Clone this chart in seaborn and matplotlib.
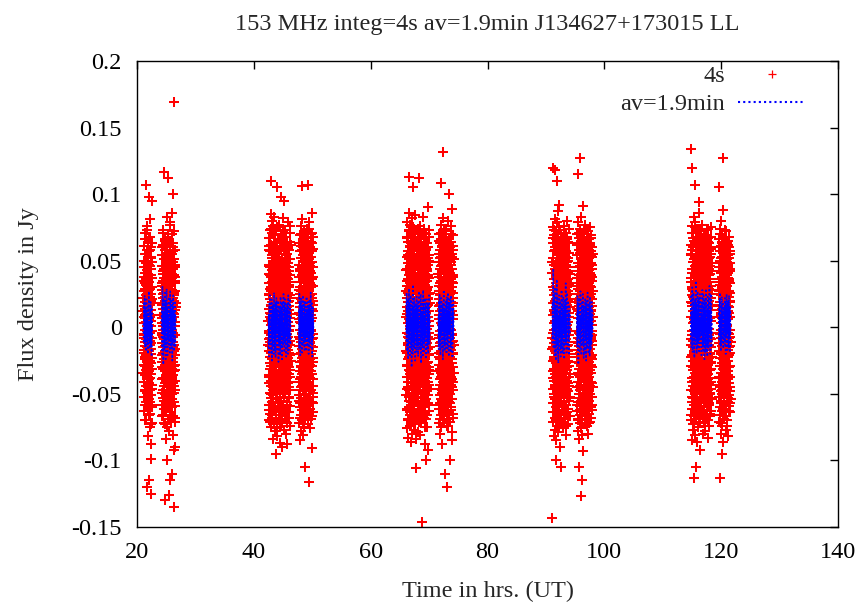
import numpy as np
import pandas as pd
import matplotlib
matplotlib.use("Agg")
import matplotlib.pyplot as plt
import seaborn as sns
from matplotlib.lines import Line2D

title_text = "153 MHz integ=4s av=1.9min J134627+173015 LL"
x_label = "Time in hrs. (UT)"
y_label = "Flux density in Jy"
legend_labels = ["4s", "av=1.9min"]

# observing blocks (hours UT)
block_start = [21.1, 24.2, 42.5, 47.7, 66.1, 71.6, 91.1, 95.3, 114.8, 119.6]
block_end = [22.6, 26.6, 46.3, 50.2, 70.1, 74.2, 94.1, 98.0, 118.4, 121.6]

# 4s samples, mJy
red_b1 = [12, -34, 45, -8, 27, -52, 3, -19, 61, -41, 16, -6, 38, -63, 22, -28, 7, 50, -14, 33,
          -47, 19, -2, 71, -36, 9, -24, 55, -11, 29, -58, 41, -17, 4, 107, -32, 66, -5, 24, -44,
          14, -70, 36, -21, 48, -9, 1, -39, 58, -26, 18, -120, 31, -3, 76, -49, 11, -30, 43, -15,
          26, -61, 6, -37, 52, -12, 35, -82, 20, -1, 64, -45, 15, -23, 40, -7, 98, -54, 28, -33,
          -115, 47, -18, 10, -66, 57, -29, 2, 34, -42, 81, -13, 23, -56, 8, -25, 46, -4, 30, -75,
          17, -38, 68, -10, 39, -51, 5, -125, 25, -20, 53, -35, 13, -88, 44, -16, -99, 60, -27, 21,
          -46, 37, -8, 95, -60, 18, -31, 49, -3, -72]
red_b2 = [-21, 46, 3, -58, 31, -12, 17, -39, 54, -4, 28, -67, 9, -26, 40, -15, 62, -47, 22, -7,
          35, -53, 14, -31, 1, 73, -19, 44, -38, 8, -61, 26, -2, 51, -44, 11, -24, 117, 37, -9,
          -73, 19, -33, 58, -14, 30, -50, 4, 42, -28, -130, 66, -6, 23, -41, 13, -57, 48, -18, 32,
          -84, 7, -36, 56, -11, 20, -63, 39, -1, 83, -45, 16, -27, 61, -8, -100, 34, -52, 25, -16,
          47, -35, 5, -69, 29, -22, 70, -40, 12, -3, 112, 43, -59, 21, -30, 52, -13, 36, -78, 10,
          -48, 27, -5, 64, -37, 18, -126, 41, -20, 3, -55, 33, -9, 79, -43, 15, -29, 57, -64, 24,
          -115, 38, -17, 9, -46, 63, -25, 2, 45, -34, 19, -71, 50, -10, 31, -54, 6, -23, 86, -39,
          28, -2, -110, 55, -31, 14, -60, 37, -15, 100, -42, 22, -7, 49, -81, 11, -26, 60, -36, 17,
          -4, 44, -49, 26, -92, 8, -18, 169, -135, 39, -13, 72, -33, 20, -56, 4, 33, -21, 47, -68,
          13, -40, 27, -6, 58, -28, 35, -47, -90, 18]
red_b3 = [5, -42, 61, -18, 33, -70, 24, -9, 47, -36, 14, -58, 40, -3, 67, -27, 21, -49, 8, -14,
          57, -31, 29, -65, 45, -22, 73, -11, 2, -53, 16, -40, 85, -6, 38, -75, 27, -19, 110, 62,
          -44, 10, -29, 54, -68, 34, -2, 71, -37, 19, -56, 43, -24, 80, -12, 31, -84, 58, -33, 6,
          -47, 26, -16, 50, -61, 39, -7, 76, -51, 13, -26, 3, -72, 22, -39, 64, -4, 37, -59, 17,
          -21, 83, -46, 9, -34, 56, -78, 28, -13, 46, -63, 11, -30, 69, -43, 35, -8, 59, -54, 20,
          -95, 41, -17, 74, -28, 4, -66, 53, -38, 18, -1, 63, -50, 15, -23, 47, -76, 32, -10, 105,
          -82, 44, -48, 25, -5, 36, -57, 12, -35, 66, -20, 7, -45, 51, -15, 30, -69, 42, -9, 23,
          -32, 55, -3, 18, -62, 39, -25, 77, -11, 28, -52, 1, -41, 60, -19, 34, -87, 14, -6, 49,
          -37, 21, -64, 98, -27, 44, -13, 8, -55, 33, -30, 70, -8, 16, -46, 58, -22, 27, -71, 3,
          -17, 52, -40, 24, -90, 41, -2, 65, -33, 11, -58, 37, -14, 82, -48, 19, -26, 45, -7, 31,
          -60, 9, -36, 57, -18, 26, -77, 48, -1, 14, -43, 68, -29, 38, -11, 95, -53, 6, -24, 50,
          -67, 20, -39, 62, -4, 35, -50, 15, -31, 73, -16, 43, -61, 2, -20, 54, -44, 29, -9, 17,
          -80, 46, -28, 12, -56, 40, -5, 63, -38, 23, -88, 8, -15, 55, -34, 31, -72, 19, -23, 79,
          -42, 4, -12, 48, -64, 26, -47, 36, -7, 60, -27, 13, -52, 42, -19, -68, 30, -35, 22, -3,
          58, -45, 16, -30, 71, -10, 39, -59, 7, -21, 51, -41, 24, -74, 34, -13, 64, -37, 10, -25]
red_b4 = [-14, 38, -55, 22, -7, 63, -41, 11, -72, 47, -26, 30, -60, 4, 57, -33, 18, -85, 42, -2,
          69, -47, 25, -19, 52, -66, 9, -37, 76, -11, 34, -53, 15, -29, 61, -78, 27, -5, 45, -44,
          106, 20, -62, 58, -23, 7, -70, 39, -16, 81, -35, 13, -57, 49, -9, 28, -81, 66, -31, 3,
          -48, 54, -21, 36, -64, 17, -40, 72, -6, 43, -75, 24, -28, 59, -51, 10, -12, 46, -68, 31,
          -105, -36, 50, -3, 1, -24, 65, -45, 19, -15, 37, -58, 8, -32, 71, -20, 26, -50, 14, -4,
          55, -39, 33, -67, 12, -27, 48, -10, 21, -59, 40, -1, 74, -43, 16, -34, 62, -18, 29, -73,
          107, 6, -25, 44, -54, 23, -8, 67, -37, 11, -63, 35, -13, 51, -30, 2, -46, 79, -22, 27,
          -116, 39, -17, 56, -42, 15, -6, 33, -76, 48, -28, 18, -52, 60, -11, 24, -38, 9, -61, 42,
          -20, 70, -33, 5, -47, 30, -2, 53, -69, 20, -26, 41, -14, 86, -56, 13, -35, 63, -9, -91,
          36, -44, 22, -18, 57, -29, 7, -64, 45, -5, 31, -49, 17, -39, 68, -23, 12, -57, 38, -15]
red_b5 = [27, -51, 8, 44, -19, 68, -37, 15, -76, 53, -4, 31, -62, 22, -28, 79, -45, 3, 57, -13,
          36, -69, 12, -41, 64, -24, 48, -83, 19, -7, 113, 73, -55, 29, -32, 51, -18, 86, -60, 6,
          39, -47, 24, -74, 61, -10, 33, -52, 16, -35, 77, -22, 45, -66, 1, 55, -39, 26, -86, 70,
          -15, 11, -58, 42, -29, 63, -8, 35, -71, 18, -44, 82, -25, 50, -63, 7, -17, 59, -49, 30,
          -80, 14, -34, 105, 67, -2, 41, -57, 23, -21, 75, -42, 9, -68, 47, -11, 37, -54, 20, -77,
          65, -30, 4, -46, 58, -6, 28, -61, 43, -38, 84, -16, 13, -73, 52, -27, 32, -50, 17, -9,
          71, -40, 25, -84, -106, 60, -65, 38, -20, 2, -36, 49, -56, 21, -12, 46, -31, 10, -3, 54,
          -43, 28, -67, 16, -24, 62, -48, 5, -14, 39, -79, 33, -7, 72, -35, 19, -53, 44, -1, 26,
          -59, 11, -28, 57, -41, 112, -18, 36, -70, 8, -33, 50, -22, 15, -62, 41, -5, 66, -45, 23,
          -13, 53, -37, 3, -81, 30, -26, 76, -9, 44, -55, 18, -16, 61, -39, 12, -72, 48, -4, 34,
          -50, 25, -30, 69, -11, 7, -64, 40, -21, 56, -146, 19, -42, 31, -2, 59, -34, 14, -57, 47,
          -8, 83, -27, 22, -48, 36, -15, 9, -68, 51, -36, 27, -3, 64, -44, 17, -25, 74, -52, 6,
          -19, 43, -60, 29, -10, 55, -40, 13, -88, 38, -23, 67, -6, 32, -47, 20, -31, 58, -14, 4,
          -100, 45, -29, 70, -17, 24, -54, 11, -38, 63, -1, 35, -66, 42, -20, 16, -45, 52, -12, 28,
          -75, 90, -33, 8, -51, 39, -7, 60, -26, 21, -92, 47, -16, 30, -58, 12, -35, 68, -4, 25,
          -43, 54, -21, 37, -63, 5, -30, 49, -9, 18]
red_b6 = [-33, 16, -61, 49, -8, 27, -72, 55, -19, 38, -46, 6, 70, -28, 21, -57, 44, -3, 63, -39,
          12, -80, 33, -14, 58, -51, 25, -24, 77, -43, 9, -66, 40, -11, 53, -34, 18, -75, 66, -20,
          108, 30, -55, 2, 47, -37, 24, -88, 61, -7, 35, -49, 14, -29, 82, -62, 19, -16, 51, -41,
          132, 8, -70, 43, -26, 68, -4, 29, -58, 37, -31, 74, -45, 11, -13, 57, -67, 22, -38, 46,
          -110, -52, 4, -23, 31, -9, 62, -36, 15, -48, 40, -18, 26, -64, 3, -30, 56, -42, 20, -6,
          72, -27, 13, -59, 35, -15, 48, -74, 28, -1, 65, -40, 10, -33, 52, -21, -120, 23, -53, 39,
          -10, 80, -46, 17, -25, 45, -63, 7, -35, 59, -12, 32, -69, 21, -4, 50, -29, 100, 14, -56,
          42, -19, 67, -38, 5, -44, 34, -8, 60, -71, 25, -22, -100, 54, -32, 11, -50, 41, -14, 76,
          -37, 19, -60, 27, -2, 47, -43, 9, -27, 64, -17, 36, -79, 16, -39, 55, -6, 89, -85, 30,
          -24, 44, -54, 12, -11, 58, -34, 22, -65, 38, -20, 6, -47, 69, -30, 18, -41, 33, -13, 51]
red_b7 = [41, -143, -16, 63, -38, 9, -71, 52, -25, 30, -57, 120, 18, -4, 75, -46, 24, -82, 57, -12,
          36, -64, 13, -31, 69, -50, 3, -22, 47, -77, 28, -9, 60, -43, 118, 20, -68, 81, -35, 11,
          -54, 44, -1, 66, -27, 33, -85, 49, -18, 15, -60, 72, -40, 26, -100, -7, 56, -52, 8, -74,
          38, 110, -29, 79, -14, 22, -48, 61, -36, 5, -65, 45, -20, 31, -79, 54, -10, 17, -58, 87,
          -33, 40, -24, 65, -47, 12, -70, 35, -6, 50, -41, 27, -62, 92, -90, 58, -44, 2, -19, 73,
          -55, 19, -28, 43, -11, 34, -37, 7, -51, 62, -23, 15, -105, 46, -3, 25, -66, 39, -15, 70,
          -42, 10, -30, 55, -8, 37, -59, 21, -26, 48, -72, 16, -12, 64, -39, 29, -49, 6, -21, 53,
          -34, 23, -76, 44, -2, 59, -45, 14, -17, 76, -56, 32, -7, 41, -63, 18, -31, 67, -13, 26,
          -50, 9, -38, 51, -24, 35, -68, 3, -43, 60, -16, 28, -81, 47, -5, 20, -35, 71, -27, 13,
          -58, 39, -9, 57, -46, 24, -20, 49, -64, 8, -32, 66, -14, 30, -53, 17, -40, 80, -1, 42,
          -73, 21, -25, 52, -11, 36, -48, 4, -61, 45, -18, 27, -37, 63, -6, 15, -55, 33, -29, 74,
          -44, 11, -22, 56, -67, 19, -3, 40, -52, 25]
red_b8 = [-26, 54, -11, 37, -63, 21, -45, 70, -3, 29, -78, 48, -17, 115, 12, -56, 63, -34, 25, -69,
          42, -8, 79, -50, 16, -22, 58, -105, -41, 7, -84, 33, -14, 67, -31, 20, -59, 46, -5, 74,
          -47, 10, -37, 127, 55, -72, 27, -19, 39, -62, 4, -28, 83, -127, -53, 23, -12, 60, -44, 15,
          -76, 36, -2, 52, -66, 30, -24, 71, -38, 8, -115, -58, 44, -16, 26, -81, 64, -30, 13, -49,
          57, -9, 34, 91, -93, 47, -64, 18, -35, 1, 50, -21, 62, -40, 11, -27, 45, -6, 32, -57,
          19, -15, 68, -33, 6, -70, 41, -10, 28, -51, 53, -25, 14, -43, 77, -4, 35, -61, 22, -18,
          49, -36, 9, -67, 40, -13, 24, -54, 61, -29, 3, -46, 38, -7, 56, -74, 17, -23, 65, -39,
          12, -31, 43, -60, 27, -1, 72, -48, 20, -14, 51, -35, 7, -80, 36, -20, 59, -42, 15, -8,
          46, -65, 29, -26, 66, -11, 33, -55, 4, -37, 54, -19, 23, -71, 41, -5, 62, -32, 10, -50,
          31, -16, 75, -44, 18, -28, 48, -60, 5, -22, 39, -9, 57, -41, 25, -68, 13, -34, 69, -3,
          44, -52, 21, -13, 53, -30, 16, -58, 35, -24, 60, -6, 27, -45, 8]
red_b9 = [19, -47, 62, -13, 34, 134, -70, 8, -29, 55, -52, 24, -6, 76, -38, 41, -85, 16, 120, -21,
          58, -61, 30, -10, 67, -44, 3, -32, 49, -77, 27, -15, 71, -53, 12, -25, -113, 44, -67, 37,
          -2, 83, -40, 21, -58, 51, -18, 6, -73, 64, -34, 28, 107, -9, 46, -62, 14, -48, 79, -27,
          38, -81, 10, -16, 57, -55, 23, -36, -105, 68, -4, 32, -69, 47, -22, 18, -50, 74, -31, 9,
          -64, 43, -12, 60, -43, 26, -86, 53, -20, 35, -57, 15, -7, 72, -39, 40, -75, 2, -28, 61,
          -46, 29, -14, 86, -59, 20, -33, 50, -68, 11, -23, 66, -37, 94, -92, 45, -52, 5, -17, 39,
          -71, 25, -3, 54, -26, 13, -41, 36, -8, 63, -49, 22, -19, 48, -65, 7, -35, 70, -11, 31,
          -56, 17, -1, 45, -30, 59, -42, 4, -24, 77, -15, 28, -63, 40, -9, 52, -37, 12, -80, 33,
          -18, 65, -45, 21, -5, 43, -54, 9, -27, 58, -12, 37, -72, 26, -40, 14, -60, 49, -2, 30,
          -48, 16, -21, 69, -33, 6, -66, 42, -14, 55, -25, 19, -78, 35, -7, 61, -44, 10, -30, 47,
          -57, 24, -11, 38, -69, 3, -36, 73, -20, 27, -51, 15, -4, 56, -39, 32, -62, 11, -16, 64,
          -28, 41, -47, 18, -83, 51, -10, 23, -35, 67, -55, 7, -23, 44, -6, 34, -74, 20, -42, 57,
          -13, 29, -58, 39, -1, 60, -32, 13, -50, 46, -19, 25, -67, 8, -38, 53, -8, 36, -46, 22,
          -26, 75, -41, 5, -15, 48, -63, 31, -31, 59, -4, 17, -53, 42, -22, 28]
red_b10 = [-18, 45, -52, 27, -4, 66, -37, 13, -71, 105, 50, -23, 32, -60, 8, 74, -45, 19, -12, 57,
           -113, -66, 36, -29, 3, -80, 42, -8, 61, -48, 24, -34, 80, -19, 11, -57, 48, -2, 29, -95,
           -74, 64, -27, 16, -41, 53, -14, 38, -63, 7, -50, 70, -31, 21, 88, -86, 44, -47, 1, -24,
           58, -38, 33, -9, 127, 15, -55, 40, -69, 26, -16, 51, -35, 10, -43, 62, -6, 30, -58, 18,
           -26, 46, -11, 35, -67, 22, -3, 55, -40, 14, -20, 68, -49, 5, -32, 39, -77, 28, -13, 59,
           -44, 17, -1, 43, -61, 25, -28, 72, -36, 9, -53, 34, -15, 63, -22, 2, -46, 49, -7, 31,
           -70, 20, -39, 54, -10, 37, -56, 12, -25, 47, -33, 6, -82, 41, -17, 65, -42, 23, -5, 52,
           -30, 15, -59, 36, -21, 60, -8, 27, -51, 11, -37, 44, -14, 57, -64, 19, -2, 33, -45, 26,
           -19, 48, -29, 8, -54]

# more 4s samples for the dense core of each block, mJy (also spread over the block's time range)
red2_b1 = [22, -41, 8, -63, 35, -17, 50, -5, -29, 14, 66, -48, 3, -22, 41, -70, 27, -11, 55, -36,
           10, -56, 32, -2, 73, -25, 16, -44, 4, -14, 47, -60, 24, -33, 61, -8, 37, -52, 13, -20,
           68, -39, 6, -27, 44, -65, 19, -4, 58, -31, 29, -47, 1, -16, 52, -73, 39, -12, 20, -58,
           63, -23, 9, -43, 30]
red2_b2 = [33, -6, -49, 18, 60, -30, 7, -66, 42, -15, 25, -38, 71, -2, 14, -55, 46, -24, 3, -72,
           37, -9, 58, -42, 20, -18, 65, -33, 11, -61, 29, -4, 50, -27, 16, -75, 39, -12, 6, -47,
           68, -21, 31, -58, 9, -35, 54, -1, 23, -69, 44, -14, 2, -40, 77, -26, 17, -52, 36, -8,
           61, -45, 13, -30, 48, -64, 26, -3, 40, -19, 70, -50, 5, -37, 57, -11, 19, -67, 34, -23,
           63, -6, 10, -44, 51, -29, 24, -59, 1, -16, 45, -71, 38, -32, 15]
red2_b3 = [-13, 46, -62, 25, -4, 58, -37, 11, -71, 39, -22, 67, -8, 30, -50, 17, -29, 74, -44, 6,
           -16, 52, -66, 33, -2, 61, -40, 21, -57, 9, -33, 70, -19, 43, -5, 28, -73, 48, -26, 14,
           -48, 63, -11, 36, -60, 2, -35, 55, -24, 19, -68, 41, -7, 75, -42, 12, -54, 31, -15, 49,
           -3, 66, -46, 24, -30, 8, -63, 38, -20, 57, -52, 16, -9, 44, -75, 27, -38, 69, -1, 35,
           -56, 13, -27, 50, -70, 22, -12, 61, -43, 5, -34, 47, -18, 72, -59, 29, -6, 40, -49, 18,
           -23, 64, -36, 10, -65, 33, -14, 54, -31, 3, -45, 68, -21, 26, -58, 42, -8, 15, -72, 37,
           -28, 59, -41, 7, -17, 51, -64, 20, -2, 45, -53, 32, -25, 76, -10, 39, -47, 1, -32, 62]
red2_b4 = [28, -51, 6, -20, 63, -39, 15, -68, 44, -9, 34, -57, 21, -30, 70, -14, 3, -45, 52, -25,
           11, -62, 39, -4, 58, -34, 24, -73, 47, -17, 8, -41, 66, -28, 18, -55, 31, -1, 72, -47,
           13, -22, 55, -66, 37, -11, 26, -50, 5, -36, 61, -19, 43, -59, 16, -7, 68, -43, 29, -27,
           50, -70, 2, -15, 40, -53, 22, -32, 74, -6, 35, -61, 12, -24, 57, -38, 19, -48, 46, -12,
           64, -29, 9, -56, 32, -3, 49, -67, 25, -18, 71, -35, 14, -44, 38, -8, 59, -52, 20, -26]
red2_b5 = [-18, 43, -61, 10, 35, -29, 67, -46, 3, -12, 54, -70, 26, -37, 19, -5, 72, -52, 31, -22,
           48, -8, 14, -64, 39, -33, 60, -1, 23, -56, 45, -15, 7, -42, 75, -27, 17, -68, 36, -10,
           57, -49, 28, -3, 65, -35, 12, -59, 41, -20, 4, -73, 50, -13, 33, -45, 70, -24, 9, -39,
           62, -7, 21, -55, 46, -31, 15, -66, 38, -2, 53, -43, 27, -17, 74, -50, 6, -28, 58, -62,
           30, -11, 44, -36, 18, -71, 64, -21, 2, -47, 40, -9, 55, -33, 25, -58, 11, -25, 68, -40,
           35, -6, 49, -65, 16, -30, 61, -14, 24, -53, 42, -1, 71, -44, 8, -19, 56, -60, 32, -38,
           13, -75, 47, -23, 66, -4, 20, -51, 37, -16, 59, -34, 5, -69, 44, -27, 29, -12, 63, -48,
           22, -41, 52, -8, 17, -57, 38, -20, 73, -32, 1, -46, 50, -15, 26]
red2_b6 = [40, -22, 9, -58, 31, -6, 65, -43, 17, -31, 52, -69, 24, -12, 46, -37, 3, -54, 71, -18,
           35, -47, 13, -2, 60, -28, 21, -64, 43, -9, 28, -51, 7, -39, 68, -15, 38, -72, 19, -25,
           55, -33, 11, -60, 47, -4, 30, -46, 74, -20, 15, -36, 57, -11, 2, -66, 41, -29, 25, -53,
           63, -8, 33, -42, 18, -74, 50, -16, 6, -35, 66, -49, 27, -23, 44, -1, 58, -57, 12, -30,
           70, -40, 22, -14, 49, -62, 34, -5, 53, -27, 16, -45, 61, -19, 9, -68, 39, -10, 26, -34]
red2_b7 = [-8, 49, -33, 18, -64, 41, -15, 67, -2, 28, -52, 12, -40, 73, -24, 36, -57, 5, -18, 58,
           -45, 21, -70, 44, -10, 31, -37, 63, -5, 16, -60, 48, -27, 9, -49, 70, -14, 38, -66, 25,
           -1, 55, -43, 19, -31, 75, -21, 7, -55, 42, -12, 33, -72, 51, -36, 14, -3, 61, -47, 27,
           -19, 66, -59, 4, -28, 46, -8, 37, -63, 22, -41, 57, -16, 11, -69, 39, -25, 71, -6, 30,
           -50, 17, -34, 62, -11, 45, -74, 24, -4, 53, -38, 13, -58, 35, -22, 68, -46, 2, -30, 50,
           -13, 41, -61, 20, -42, 64, -26, 8, -53, 32, -17, 56, -35, 15, -67]
red2_b8 = [31, -58, 14, -20, 62, -41, 7, -70, 45, -12, 25, -36, 71, -4, 18, -53, 39, -27, 56, -66,
           22, -9, 48, -44, 3, -31, 68, -15, 35, -61, 11, -24, 52, -73, 29, -6, 42, -38, 17, -57,
           65, -19, 9, -46, 74, -28, 24, -63, 37, -2, 58, -34, 13, -50, 46, -14, 27, -69, 5, -40,
           61, -22, 33, -55, 19, -8, 70, -47, 1, -32, 50, -18, 40, -65, 26, -11, 57, -37, 15, -59,
           43, -26, 8, -72, 36, -3, 63, -45, 21, -16, 54, -52, 30, -29, 67, -7, 12, -42, 47, -21,
           2, -62, 38, -10, 55]
red2_b9 = [-22, 54, -9, 37, -66, 18, -41, 71, -3, 29, -56, 44, -14, 8, -73, 60, -30, 23, -48, 12,
           -19, 65, -37, 4, -61, 41, -7, 33, -52, 26, -26, 75, -44, 15, -11, 49, -69, 35, -1, 57,
           -34, 20, -58, 46, -16, 9, -64, 68, -23, 30, -47, 2, -38, 53, -12, 39, -71, 24, -5, 62,
           -42, 16, -29, 72, -55, 11, -18, 45, -63, 31, -8, 58, -36, 21, -50, 6, -25, 67, -45, 36,
           -2, 51, -67, 27, -33, 14, -59, 43, -13, 70, -40, 19, -21, 56, -74, 33, -6, 47, -28, 10,
           -53, 64, -17, 38, -46, 3, -35, 59, -60, 25, -10, 42, -70, 29, -24, 74, -39, 13, -4, 52,
           -57, 17, -31, 63, -15, 40, -49, 7, -65, 34, -20, 55, -43, 22, -9, 68, -27, 48, -54, 16]
red2_b10 = [25, -43, 60, -12, 34, -66, 17, -29, 49, -5, 70, -38, 9, -55, 41, -20, 3, -72, 52, -27,
            14, -47, 63, -8, 30, -61, 22, -16, 56, -35, 6, -69, 44, -23, 37, -2, 66, -50, 19, -31,
            73, -41, 11, -58, 28, -10, 47, -64, 33, -19, 58, -26, 1, -45, 51, -13, 39, -74, 24, -36,
            62, -4, 16, -53, 45, -22, 8, -63, 35, -30, 68, -15, 27, -48, 55, -7, 20, -57, 42, -11]

# 1.9 min averages, mJy
blue_b1 = [3, -12, 18, -5, 24, -15, 8, -9, 14, -18, 21, -3, 10, -13, 6, -20, 16, -7, 27, -11, 4, -16, 12, -2,
           19, -14, 9, -22, 15, -6]
blue_b2 = [-8, 16, -20, 31, -4, 12, -28, 22, -11, 7, -17, 26, -6, 19, -24, 10, -14, 29, -2, 15, -21, 9, -9, 18,
           -13, 23, -5, 11, -19, 27, -10, 6, -16, 21, -3, 14, -25, 17, -7, 24, -12, 8, -18, 13, -1, 20, -15, 10]
blue_b3 = [-15, 10, -22, 18, -6, 24, -12, 4, -19, 15, -9, 21, -25, 8, -3, 17, -14, 11, -20, 26, -7, 13, -17, 5,
           -23, 19, -10, 22, -4, 14, -18, 9, -11, 20, -26, 6, -13, 16, -8, 12, -21, 23, -2, 15, -16, 7, -24, 19,
           -5, 11, -14, 25, -9, 3, -19, 17, -12, 21, -6, 10, -22, 14, -1, 18, -15, 8, -20, 24, -10, 13, -17, 6,
           -7, 20, -13, 9]
blue_b4 = [12, -16, 25, -8, 18, -21, 5, -12, 22, -4, 15, -19, 9, -14, 24, -7, 17, -11, 3, -17, 20, -9, 13, -5,
           10, -18, 23, -6, 14, -13, 19, -2, 8, -20, 16, -10, 21, -3, 11, -15, 26, -7, 12, -12, 18, -22, 6, -9,
           15, -4]
blue_b5 = [-10, 26, -18, 14, -4, 21, -24, 9, -13, 29, -7, 17, -21, 11, -2, 24, -15, 6, -30, 19, -9, 15, -20, 32,
           -5, 12, -16, 22, -11, 8, -25, 18, -3, 13, -19, 23, -8, 16, -14, 10, -22, 20, -6, 27, -12, 7, -17, 14,
           -1, 25, -27, 11, -10, 19, -15, 5, -21, 28, -4, 16, -18, 9, -12, 22, -8, 13, -24, 17, -2, 21, -16, 6,
           -11, 18, -20, 12, -7, 24, -13, 10]
blue_b6 = [8, -17, 20, -9, 25, -13, 4, -21, 16, -6, 22, -15, 11, -2, 18, -24, 13, -10, 28, -7, 14, -18, 9, -12,
           19, -4, 15, -20, 23, -8, 10, -16, 26, -3, 12, -22, 17, -11, 21, -5, 7, -19, 24, -14, 11, -1, 18, -23,
           14, -9, 20, -6]
blue_b7 = [-12, 19, -7, 44, -16, 25, -3, 14, -21, 30, -9, 17, -25, 11, -5, 36, -14, 22, -19, 8, -27, 16, -1, 24,
           -17, 12, -8, 20, -22, 6, -15, 28, -10, 18, -20, 13, -4, 23, -18, 9, -24, 15, -6, 21, -13, 33, -11, 7,
           -19, 26, -2, 14, -16, 20, -9, 11, -21, 17, -5, 10]
blue_b8 = [10, -15, 24, -8, 18, -28, 13, -4, 22, -18, 7, -11, 27, -6, 16, -21, 12, -2, 19, -14, 25, -9, 15, -23,
           9, -5, 17, -19, 21, -10, 14, -25, 20, -3, 11, -16, 26, -7, 13, -20, 18, -12, 8, -22, 23, -1, 15, -17,
           10, -13, 19, -8, 12, -4]
blue_b9 = [-9, 23, -15, 12, -3, 30, -19, 8, -11, 26, -6, 17, -23, 14, -1, 21, -13, 35, -8, 18, -20, 10, -4, 27,
           -16, 13, -10, 22, -18, 6, -7, 25, -12, 16, -2, 11, -21, 19, -5, 28, -14, 9, -17, 24, -11, 15, -24, 20,
           -3, 12, -19, 29, -8, 17, -13, 7, -22, 23, -6, 14, -16, 21, -10, 31, -4, 11, -20, 18, -9, 25, -15, 8]
blue_b10 = [14, -10, 21, -5, 26, -14, 9, -18, 17, -3, 23, -11, 12, -8, 19, -16, 7, -2, 15, -9, 22, -13, 10, -20,
            18, -6, 25, -12, 8, -17, 20, -4, 13, -15, 24, -7, 11, -19, 16, -5]

x_ticks = [20, 40, 60, 80, 100, 120, 140]
y_ticks = [-0.15, -0.1, -0.05, 0, 0.05, 0.1, 0.15, 0.2]
y_tick_labels = ["-0.15", "-0.1", "-0.05", "0", "0.05", "0.1", "0.15", "0.2"]

red_blocks = [red_b1, red_b2, red_b3, red_b4, red_b5, red_b6, red_b7, red_b8, red_b9, red_b10]
red2_blocks = [red2_b1, red2_b2, red2_b3, red2_b4, red2_b5, red2_b6, red2_b7, red2_b8, red2_b9, red2_b10]
blue_blocks = [blue_b1, blue_b2, blue_b3, blue_b4, blue_b5, blue_b6, blue_b7, blue_b8, blue_b9, blue_b10]


def to_frame(blocks):
    parts = []
    for i, (s, e, vals) in enumerate(zip(block_start, block_end, blocks)):
        parts.append(pd.DataFrame({"t": np.linspace(s, e, len(vals)),
                                   "flux": np.asarray(vals, dtype=float) / 1000.0,
                                   "block": i}))
    return pd.concat(parts, ignore_index=True)


df_red = pd.concat([to_frame(red_blocks), to_frame(red2_blocks)], ignore_index=True)
df_blue = to_frame(blue_blocks)

sns.set_theme(style="white")
plt.rcParams["font.family"] = ["Liberation Serif", "DejaVu Serif"]
plt.rcParams["axes.unicode_minus"] = False

FS = 17.5
fig = plt.figure(figsize=(8.61, 6.05), dpi=100)
ax = fig.add_axes([137 / 861, 78 / 605, 701 / 861, 466 / 605])

sns.scatterplot(data=df_red, x="t", y="flux", marker="+", color="#ff0000", s=52, linewidth=1.45,
                ax=ax, legend=False, zorder=2)
dot = (0, (1, 1.4))
sns.lineplot(data=df_blue, x="t", y="flux", units="block", estimator=None, sort=False,
             color="#0000ff", linewidth=1.25, linestyle=dot, ax=ax, legend=False, zorder=3)

ax.set_xlim(20, 140)
ax.set_ylim(-0.15, 0.2)
ax.set_xticks(x_ticks)
ax.set_xticklabels([str(v) for v in x_ticks])
ax.set_yticks(y_ticks)
ax.set_yticklabels(y_tick_labels)
ax.tick_params(direction="in", length=6, width=1, top=True, right=True, labelsize=FS,
               colors="black", pad=11)
for sp in ax.spines.values():
    sp.set_color("black")
    sp.set_linewidth(1.0)

ax.set_xlabel(x_label, fontsize=FS, labelpad=13)
ax.set_ylabel(y_label, fontsize=FS, labelpad=23)
ax.set_title(title_text, fontsize=FS, pad=22.5)

handles = [Line2D([], [], ls="none", marker="+", color="#ff0000", ms=6, mew=0.9),
           Line2D([], [], color="#0000ff", lw=1.5, ls=(0, (1, 1.5)))]
ax.legend(handles=handles, labels=legend_labels, loc="upper right",
          bbox_to_anchor=((805 - 137) / 701, (527 - 65) / 466), frameon=False,
          markerfirst=False, handlelength=2.75, handletextpad=0.55, labelspacing=0.25,
          fontsize=FS, borderpad=0, borderaxespad=0)

fig.savefig("out.png", dpi=100)
